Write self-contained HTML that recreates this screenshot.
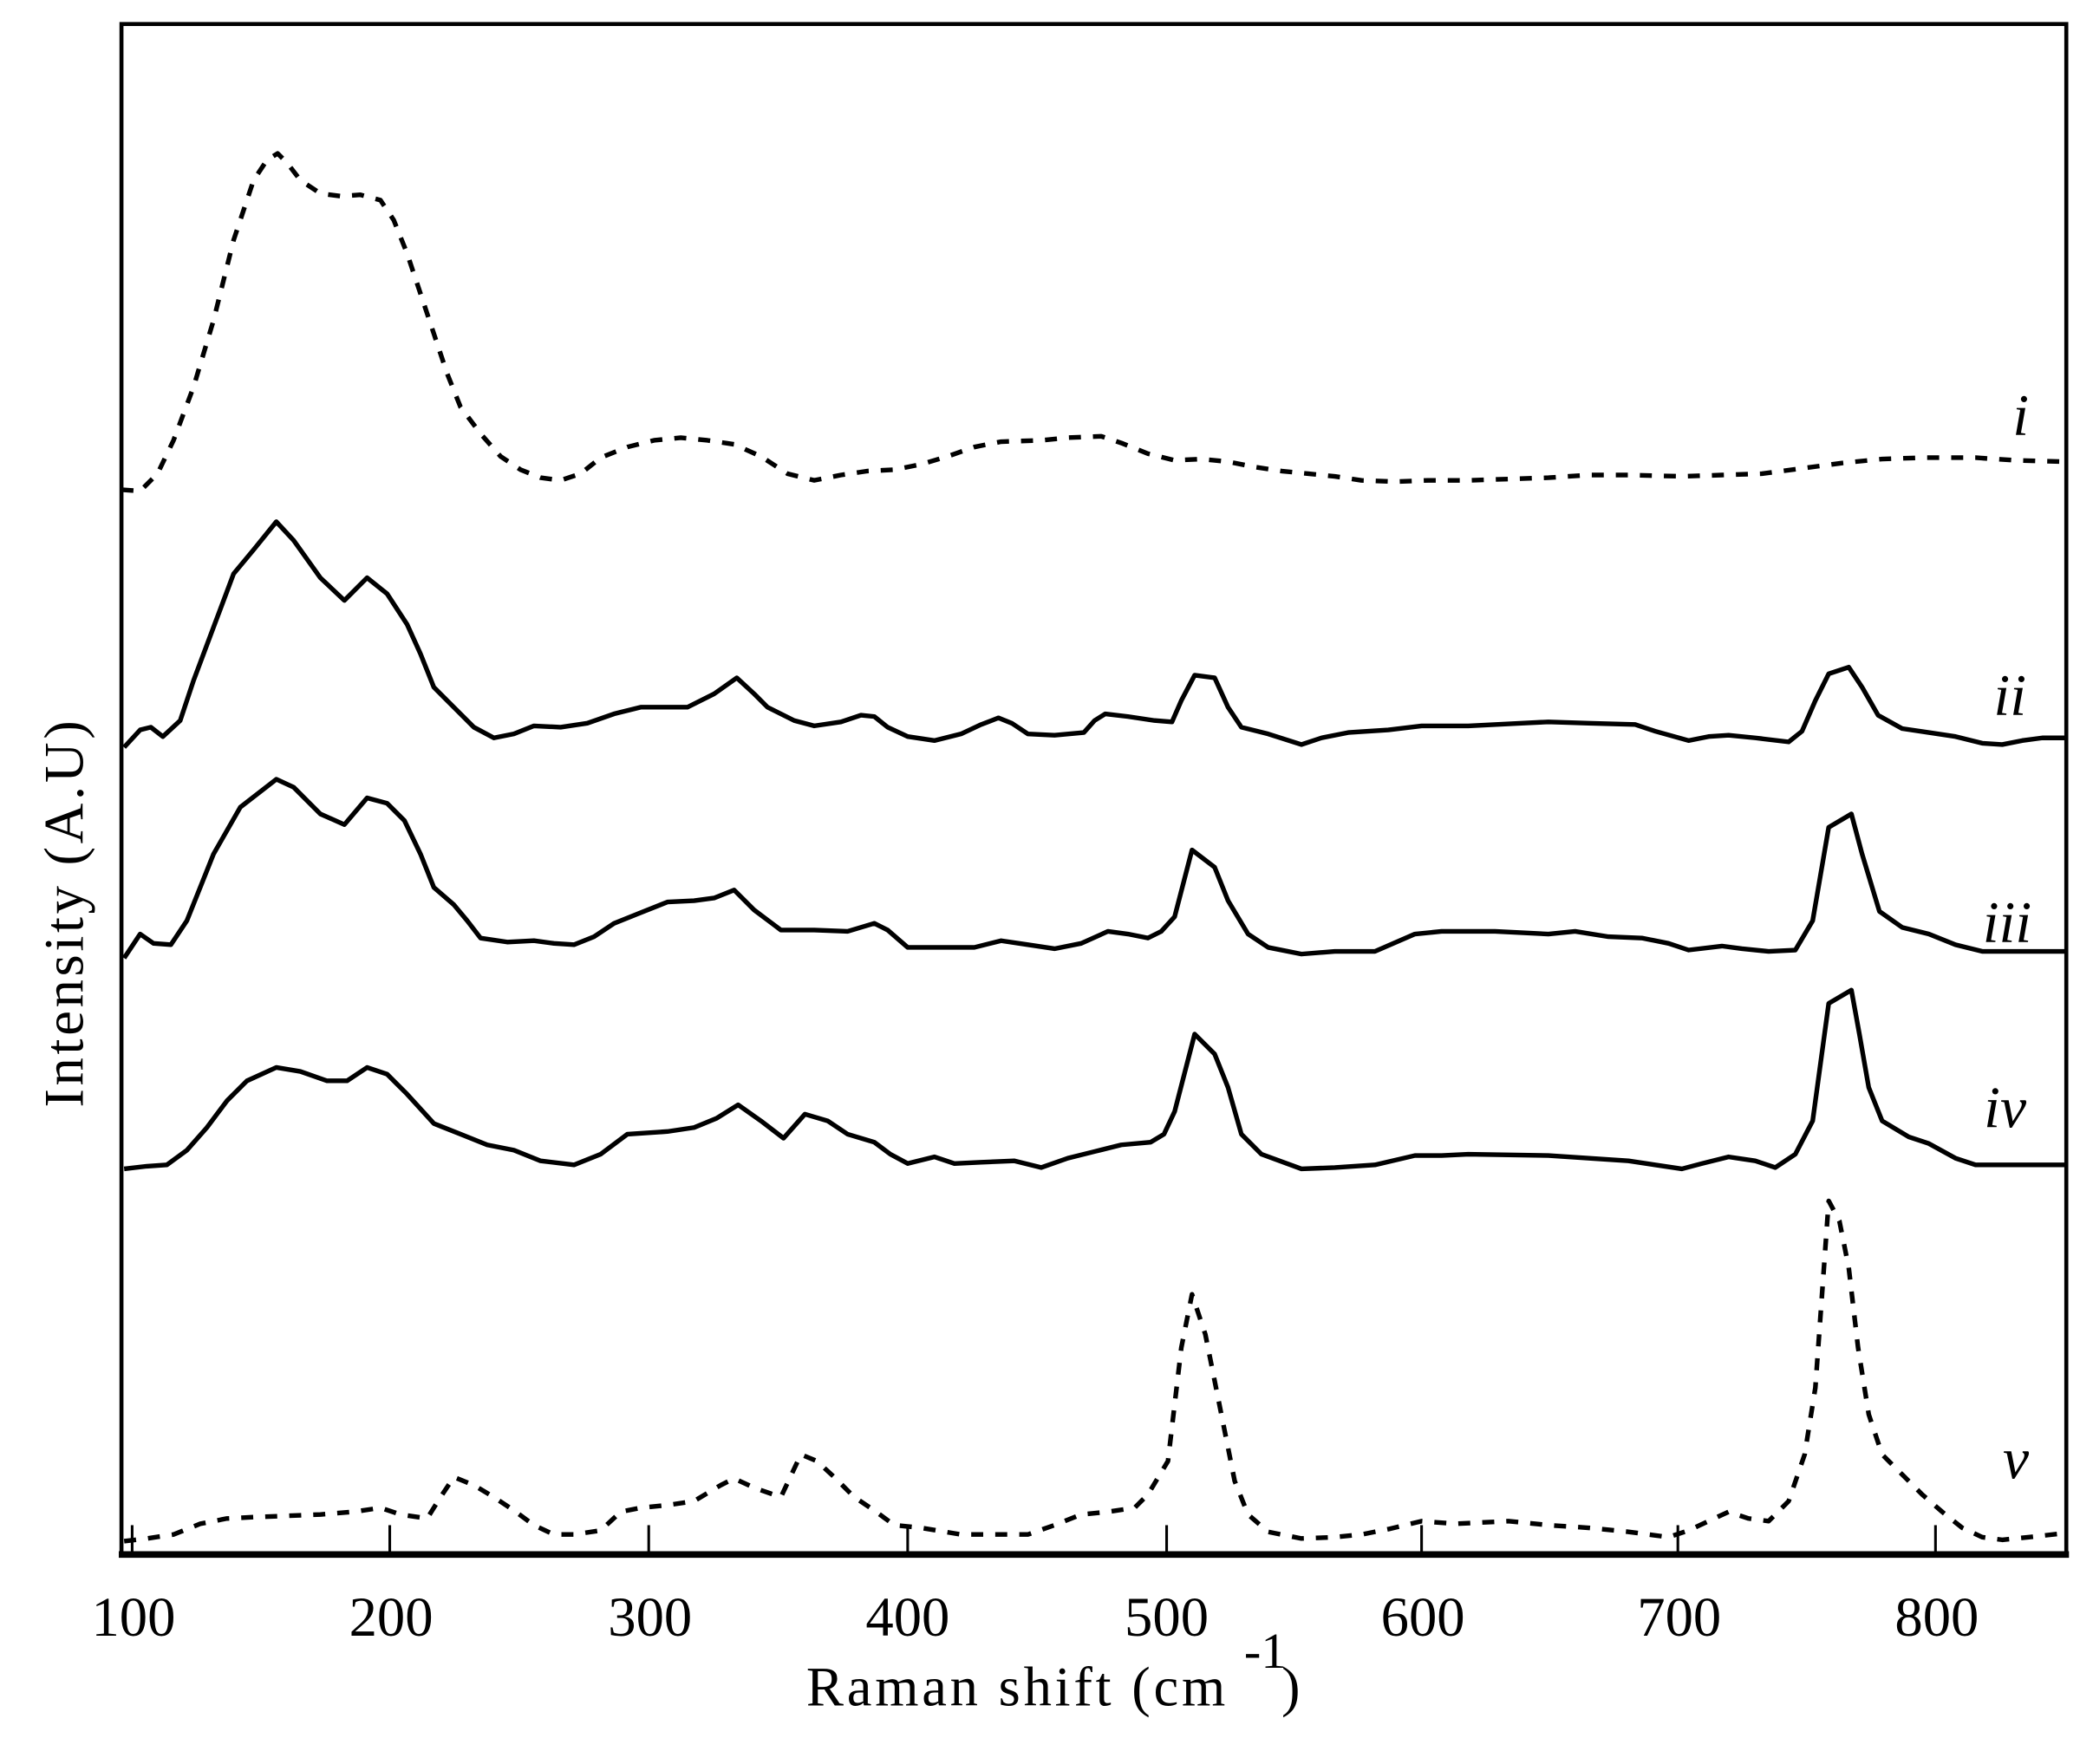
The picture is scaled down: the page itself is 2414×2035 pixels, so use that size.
<!DOCTYPE html>
<html><head><meta charset="utf-8"><style>
html,body{margin:0;padding:0;background:#fff;}
svg{display:block;}
text{font-family:"Liberation Serif",serif;fill:#000;}
</style></head><body>
<svg width="2414" height="2035" viewBox="0 0 1568 1322" preserveAspectRatio="none" xmlns="http://www.w3.org/2000/svg">
<rect x="0" y="0" width="1568" height="1322" fill="#fff"/>
<rect x="91" y="18" width="1457" height="1147" fill="none" stroke="#000" stroke-width="3"/>
<line x1="89" y1="1165" x2="1550" y2="1165" stroke="#000" stroke-width="5"/>
<g stroke="#000" stroke-width="2">
<line x1="99" y1="1143" x2="99" y2="1165"/><line x1="292" y1="1143" x2="292" y2="1165"/>
<line x1="486" y1="1143" x2="486" y2="1165"/><line x1="680" y1="1143" x2="680" y2="1165"/>
<line x1="874" y1="1143" x2="874" y2="1165"/><line x1="1065" y1="1143" x2="1065" y2="1165"/>
<line x1="1257" y1="1143" x2="1257" y2="1165"/><line x1="1450" y1="1143" x2="1450" y2="1165"/>
</g>
<g font-size="42" text-anchor="middle">
<text x="100" y="1226">100</text><text x="293" y="1226">200</text><text x="487" y="1226">300</text>
<text x="680" y="1226">400</text><text x="874" y="1226">500</text><text x="1066" y="1226">600</text>
<text x="1258" y="1226">700</text><text x="1451" y="1226">800</text>
</g>
<text x="604" y="1278" font-size="42" textLength="314" lengthAdjust="spacing">Raman shift (cm</text>
<text x="932" y="1250" font-size="38">-1</text>
<text x="960" y="1278" font-size="42">)</text>
<text transform="translate(62,685) rotate(-90)" font-size="42" text-anchor="middle" textLength="290" lengthAdjust="spacing">Intensity (A.U)</text>
<g font-size="44" font-style="italic" text-anchor="end">
<text x="1520" y="326">i</text><text x="1518" y="536">ii</text><text x="1522" y="706">iii</text>
<text x="1518" y="845">iv</text><text x="1520" y="1108">v</text>
</g>
<g fill="none" stroke="#000" stroke-linejoin="round">
<polyline stroke-width="3.5" stroke-dasharray="9,9" points="91,367 105,368 118,355 130,330 145,290 160,240 175,180 190,135 200,120 208,115 215,122 225,135 240,145 255,147 270,146 285,150 295,165 305,190 315,220 325,250 335,280 345,305 360,325 375,342 390,352 405,358 420,360 435,355 450,343 470,335 490,330 510,328 530,330 550,333 570,342 590,355 610,360 630,356 650,353 670,352 690,348 710,342 730,335 750,331 780,330 800,328 825,327 840,332 860,340 880,345 900,344 920,346 940,350 960,353 980,355 1000,357 1020,360 1045,361 1070,360 1100,360 1130,359 1160,358 1190,356 1220,356 1260,357 1290,356 1320,355 1350,351 1380,347 1410,344 1440,343 1480,343 1510,345 1547,346"/>
<polyline stroke-width="3.5" points="93,560 105,547 113,545 122,552 135,540 145,510 160,470 175,430 190,412 207,391 220,405 240,433 258,450 275,433 290,445 305,468 315,490 325,515 340,530 355,545 370,553 385,550 400,544 420,545 440,542 460,535 480,530 515,530 535,520 552,508 565,520 575,530 595,540 610,544 630,541 645,536 655,537 665,545 680,552 700,555 720,550 735,543 748,538 758,542 770,550 790,551 812,549 820,540 828,535 845,537 865,540 878,541 885,525 895,506 910,508 920,530 930,545 950,550 975,558 990,553 1010,549 1040,547 1065,544 1100,544 1140,542 1160,541 1190,542 1225,543 1240,548 1265,555 1280,552 1295,551 1315,553 1340,556 1350,548 1360,525 1370,505 1385,500 1395,515 1407,536 1425,546 1445,549 1465,552 1485,557 1500,558 1515,555 1530,553 1547,553"/>
<polyline stroke-width="3.5" points="93,718 105,700 115,707 128,708 140,690 160,640 180,605 207,584 220,590 240,610 258,618 275,598 290,602 303,615 315,640 325,665 340,678 350,690 360,703 380,706 400,705 415,707 430,708 445,702 460,692 480,684 500,676 520,675 535,673 550,667 565,682 585,697 610,697 635,698 655,692 665,697 680,710 700,710 730,710 750,705 770,708 790,711 810,707 830,698 845,700 860,703 870,698 880,687 893,637 910,650 920,675 935,700 950,710 975,715 1000,713 1030,713 1060,700 1080,698 1120,698 1160,700 1180,698 1205,702 1230,703 1250,707 1265,712 1290,709 1305,711 1325,713 1345,712 1358,690 1370,620 1387,610 1395,640 1408,683 1425,695 1445,700 1465,708 1485,713 1510,713 1547,713"/>
<polyline stroke-width="3.5" points="93,876 110,874 125,873 140,862 155,845 170,825 185,810 207,800 225,803 245,810 260,810 275,800 290,805 305,820 325,842 345,850 365,858 385,862 405,870 430,873 450,865 470,850 500,848 520,845 537,838 553,828 570,840 587,853 603,835 620,840 635,850 655,856 667,865 680,872 700,867 715,872 735,871 760,870 780,875 800,868 820,863 840,858 862,856 872,850 880,833 895,775 910,790 920,815 930,850 945,865 975,876 1000,875 1030,873 1060,866 1080,866 1100,865 1160,866 1220,870 1260,876 1275,872 1295,867 1315,870 1330,875 1345,865 1358,840 1370,752 1387,742 1393,775 1400,815 1410,840 1430,852 1445,857 1465,868 1480,873 1547,873"/>
<polyline stroke-width="3.5" stroke-dasharray="9,9" points="93,1155 110,1153 130,1150 150,1142 170,1138 190,1137 215,1136 240,1135 265,1133 285,1130 300,1135 320,1138 330,1122 340,1107 355,1113 370,1122 385,1132 400,1143 415,1150 430,1150 450,1147 465,1133 480,1130 500,1128 520,1125 540,1113 550,1108 565,1115 585,1122 600,1090 612,1095 625,1107 640,1122 655,1132 670,1143 690,1145 720,1150 750,1150 770,1150 790,1143 810,1135 830,1133 850,1130 860,1120 875,1095 885,1010 893,970 903,1000 915,1060 925,1110 935,1135 950,1148 975,1153 1000,1152 1020,1150 1040,1146 1065,1140 1090,1142 1130,1140 1160,1143 1190,1145 1220,1148 1250,1152 1265,1147 1280,1140 1295,1133 1310,1138 1325,1140 1340,1125 1352,1090 1360,1040 1370,900 1378,915 1385,950 1392,1010 1400,1060 1410,1090 1425,1105 1440,1120 1455,1133 1470,1145 1485,1152 1500,1154 1520,1152 1547,1149"/>
</g>
</svg>
</body></html>
